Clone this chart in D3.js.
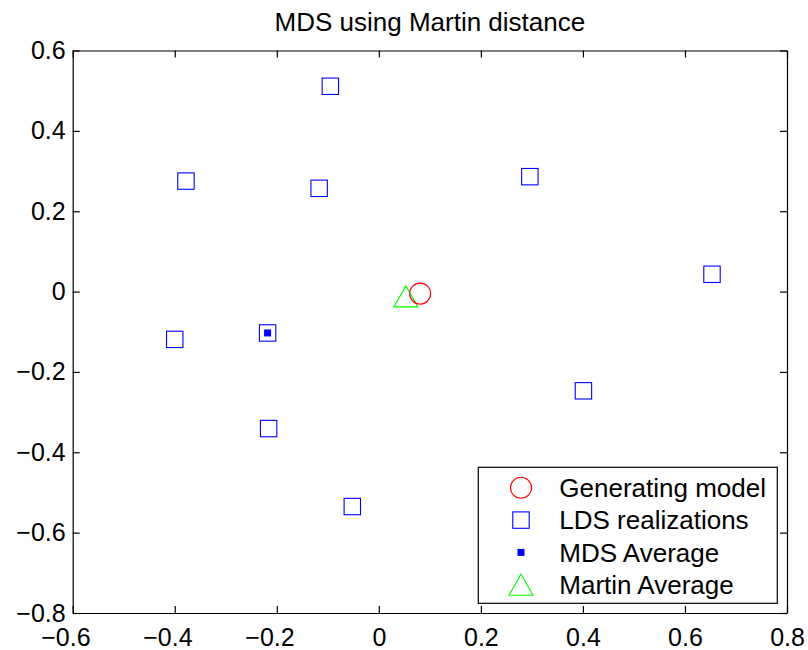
<!DOCTYPE html>
<html>
<head>
<meta charset="utf-8">
<script src="https://cdn.jsdelivr.net/npm/d3@7"></script>
<style>
  body { margin: 0; background: #fff; }
  text { font-family: "Liberation Sans", Arial, Helvetica, sans-serif; fill: #000; }
</style>
</head>
<body>
<div id="chart-container"></div>
<script>
// Plot box in page pixels
const margin = { top: 50.5, right: 21, bottom: 37, left: 72.7 },
    width = 808 - margin.left - margin.right,
    height = 650 - margin.top - margin.bottom;

// Data
const ldsX = [-0.095, -0.378, -0.117, 0.296, 0.653, -0.400, -0.218, 0.401, -0.216, -0.052];
const ldsY = [0.511, 0.275, 0.257, 0.286, 0.043, -0.119, -0.103, -0.247, -0.341, -0.535];
const genModel = [0.081, -0.005];
const mdsAverage = [-0.218, -0.103];
const martinAverage = [0.053, -0.012];

const xTicks = [-0.6, -0.4, -0.2, 0, 0.2, 0.4, 0.6, 0.8];
const yTicks = [-0.8, -0.6, -0.4, -0.2, 0, 0.2, 0.4, 0.6];
const legendLabels = ["Generating model", "LDS realizations", "MDS Average", "Martin Average"];

const fmt = d => Math.abs(d) < 1e-9 ? "0" : (d < 0 ? "\u2212" : "") + Math.abs(d).toFixed(1);

// marker drawers, each takes a selection of g's already translated
function drawCircle(g) {
    g.append("circle").attr("r", 10.5)
        .attr("fill", "none").attr("stroke", "#ff0000").attr("stroke-width", 1.1);
}
function drawSquare(g) {
    g.append("rect").attr("x", -8.2).attr("y", -8.2).attr("width", 16.4).attr("height", 16.4)
        .attr("fill", "none").attr("stroke", "#0000ff").attr("stroke-width", 1.1);
}
function drawDot(g) {
    g.append("rect").attr("x", -3.5).attr("y", -3.5).attr("width", 7).attr("height", 7)
        .attr("fill", "#0000ff");
}
function drawTriangle(g) {
    g.append("path").attr("d", "M0,-10.5L12,10.5L-12,10.5Z")
        .attr("fill", "none").attr("stroke", "#00ff00").attr("stroke-width", 1.1);
}

function init() {
    const svg = d3.select("#chart-container")
        .append("svg")
        .attr("width", 808)
        .attr("height", 650)
        .append("g")
        .attr("transform", `translate(${margin.left},${margin.top})`);

    const xScale = d3.scaleLinear().domain([-0.6, 0.8]).range([0, width]);
    const yScale = d3.scaleLinear().domain([-0.8, 0.6]).range([height, 0]);

    // Title
    svg.append("text")
        .attr("x", width / 2)
        .attr("y", 31 - margin.top)
        .attr("text-anchor", "middle")
        .style("font-size", "26px")
        .text("MDS using Martin distance");

    // Axes, ticks pointing inward on all four sides
    const xAxis = svg.append("g")
        .attr("transform", `translate(0,${height})`)
        .call(d3.axisBottom(xScale).tickValues(xTicks).tickSize(-7).tickSizeOuter(0)
            .tickPadding(15).tickFormat(d => fmt(Math.abs(d))));
    svg.append("g")
        .call(d3.axisLeft(yScale).tickValues(yTicks).tickSize(-7).tickSizeOuter(0)
            .tickPadding(7).tickFormat(fmt));
    svg.append("g")
        .call(d3.axisTop(xScale).tickValues(xTicks).tickSize(-7).tickSizeOuter(0).tickFormat(""));
    svg.append("g")
        .attr("transform", `translate(${width},0)`)
        .call(d3.axisRight(yScale).tickValues(yTicks).tickSize(-7).tickSizeOuter(0).tickFormat(""));

    svg.selectAll(".domain, .tick line").attr("stroke", "#000").attr("stroke-width", 1.2);
    svg.selectAll(".tick text").style("font-size", "25px").attr("fill", "#000")
        .style("font-family", "'Liberation Sans', Arial, Helvetica, sans-serif");

    // x labels: digits centred on tick, minus sign hangs to the left
    xAxis.selectAll(".tick").each(function(d) {
        if (d >= 0) return;
        const t = d3.select(this).select("text");
        const w = t.node().getComputedTextLength();
        d3.select(this).append("text")
            .attr("x", -w / 2)
            .attr("y", t.attr("y"))
            .attr("dy", t.attr("dy"))
            .attr("text-anchor", "end")
            .attr("fill", "#000")
            .style("font-size", "25px")
            .text("\u2212");
    });

    // LDS realizations
    const lds = ldsX.map((x, i) => ({ x: x, y: ldsY[i] }));
    svg.selectAll("g.lds")
        .data(lds)
        .enter()
        .append("g")
        .attr("class", "lds")
        .attr("transform", d => `translate(${xScale(d.x)},${yScale(d.y)})`)
        .call(drawSquare);

    svg.append("g")
        .attr("transform", `translate(${xScale(mdsAverage[0])},${yScale(mdsAverage[1])})`)
        .call(drawDot);
    svg.append("g")
        .attr("transform", `translate(${xScale(martinAverage[0])},${yScale(martinAverage[1])})`)
        .call(drawTriangle);
    svg.append("g")
        .attr("transform", `translate(${xScale(genModel[0])},${yScale(genModel[1])})`)
        .call(drawCircle);

    // Legend
    const legend = svg.append("g")
        .attr("transform", `translate(${478.3 - margin.left},${467.3 - margin.top})`);
    legend.append("rect")
        .attr("width", 299)
        .attr("height", 136)
        .attr("fill", "#fff")
        .attr("stroke", "#000")
        .attr("stroke-width", 1.2);
    const drawers = [drawCircle, drawSquare, drawDot, drawTriangle];
    legendLabels.forEach((lab, i) => {
        const cy = 20.5 + i * 32.3;
        legend.append("g")
            .attr("transform", `translate(42.7,${cy})`)
            .call(drawers[i]);
        legend.append("text")
            .attr("x", 81)
            .attr("y", cy)
            .attr("dy", "0.36em")
            .style("font-size", "26px")
            .text(lab);
    });
}

window.onload = init;
</script>
</body>
</html>
